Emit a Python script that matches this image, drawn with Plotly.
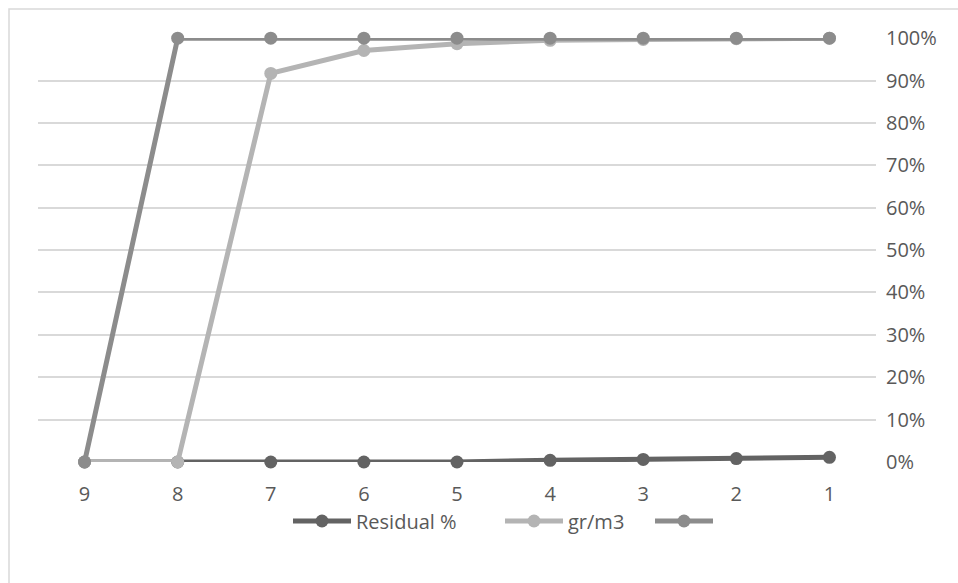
import plotly.graph_objects as go

# Categories run from 9 down to 1
categories = ["9", "8", "7", "6", "5", "4", "3", "2", "1"]

# Series values (fractions of 1, shown as percentages)
residual_pct = [0.0, 0.0, 0.0, 0.0, 0.0, 0.004, 0.006, 0.008, 0.011]
gr_m3 = [0.0, 0.0, 0.917, 0.971, 0.987, 0.995, 0.997, 0.999, 1.0]
third_series = [0.0, 1.0, 1.0, 1.0, 1.0, 1.0, 1.0, 1.0, 1.0]

W, H = 958, 583
L, R, T, B = 38, 82, 38, 121
PW, PH = W - L - R, H - T - B

TEXT = "#595959"
GRID = "#d9d9d9"
FONT = "Open Sans, Noto Sans, Liberation Sans, sans-serif"
FS = 20

# name, values, colour, legend id, legend left edge (px)
series = [
    ("Residual %", residual_pct, "#636363", "legend", 288),
    ("gr/m3", gr_m3, "#b4b4b4", "legend2", 500),
    (" ", third_series, "#8c8c8c", "legend3", 650),
]

fig = go.Figure()
for name, values, color, leg, _ in series:
    fig.add_trace(go.Scatter(
        x=categories,
        y=values,
        name=name,
        mode="lines+markers",
        line=dict(color=color, width=5),
        marker=dict(color=color, size=13),
        cliponaxis=False,
        legend=leg,
    ))

legend_y = (H - B - 521) / PH
legends = {}
for _, _, _, leg, left_px in series:
    legends[leg] = dict(
        orientation="h",
        x=(left_px - L) / PW,
        xanchor="left",
        y=legend_y,
        yanchor="middle",
        font=dict(family=FONT, size=FS, color=TEXT),
        itemwidth=58,
        bgcolor="rgba(0,0,0,0)",
    )

fig.update_layout(
    width=W,
    height=H,
    margin=dict(l=L, r=R, t=T, b=B),
    paper_bgcolor="white",
    plot_bgcolor="white",
    font=dict(family=FONT, size=FS, color=TEXT),
    showlegend=True,
    xaxis=dict(
        type="category",
        categoryorder="array",
        categoryarray=categories,
        range=[-0.5, len(categories) - 0.5],
        showgrid=False,
        zeroline=False,
        showline=False,
        ticks="",
        ticklabelstandoff=18,
        tickfont=dict(size=FS, color=TEXT),
        fixedrange=True,
    ),
    yaxis=dict(
        side="right",
        range=[0, 1.0005],
        dtick=0.1,
        tick0=0,
        tickformat=".0%",
        showgrid=True,
        gridcolor=GRID,
        gridwidth=1.5,
        zeroline=False,
        showline=False,
        ticks="",
        ticklabelstandoff=9,
        tickfont=dict(size=FS, color=TEXT),
        fixedrange=True,
    ),
    shapes=[
        # chart-area border (continues past the right and bottom edges)
        dict(
            type="rect",
            xref="paper",
            yref="paper",
            x0=(9 - L) / PW,
            x1=1.3,
            y0=-0.4,
            y1=(H - B - 9) / PH,
            line=dict(color=GRID, width=1.5),
            fillcolor="rgba(0,0,0,0)",
            layer="below",
        )
    ],
    **legends,
)

fig.write_html("out.html")
